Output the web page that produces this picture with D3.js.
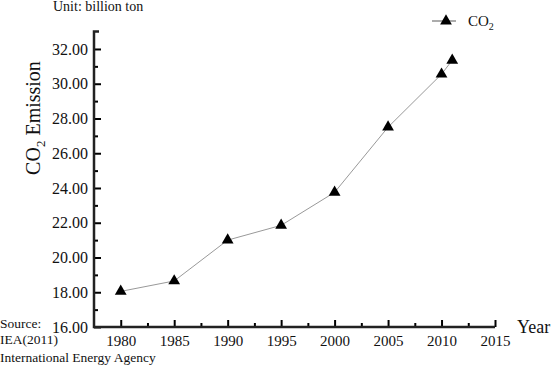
<!DOCTYPE html>
<html><head><meta charset="utf-8">
<script src="https://cdn.jsdelivr.net/npm/d3@7"></script>
<style>body{margin:0;background:#fff}svg{display:block;font-family:"Liberation Serif","Times New Roman",serif}</style>
</head><body><svg id="c" width="553" height="365"></svg>
<script>
const years = [1980, 1985, 1990, 1995, 2000, 2005, 2010, 2011];
const emissions = [18.05, 18.65, 21.0, 21.85, 23.75, 27.5, 30.55, 31.35];
const yTicks = [16, 18, 20, 22, 24, 26, 28, 30, 32];
const xTicks = [1980, 1985, 1990, 1995, 2000, 2005, 2010, 2015];

const svg = d3.select("#c");
const x = d3.scaleLinear().domain([1977.5, 2015]).range([94, 495]);
const y = d3.scaleLinear().domain([16, 33]).range([327, 31.6]);
const AX = "#000";

// y axis
const yAxis = d3.axisRight(y).tickValues(yTicks).tickSize(7).tickSizeOuter(0).tickFormat(d3.format(".2f"));
const ya = svg.append("g").attr("transform", "translate(94,0)").call(yAxis);
ya.select(".domain").remove();
ya.selectAll(".tick line").style("stroke", AX).style("stroke-width", "2px");
ya.selectAll(".tick text").attr("x", -6).attr("text-anchor", "end").attr("font-size", 16).attr("font-family", "Liberation Serif").attr("fill", "#111");
// minor y ticks
const ym = d3.axisRight(y).tickValues(d3.range(17, 33, 2)).tickSize(4).tickSizeOuter(0).tickFormat("");
const yma = svg.append("g").attr("transform", "translate(94,0)").call(ym);
yma.select(".domain").remove();
yma.selectAll(".tick line").style("stroke", AX).style("stroke-width", "2px");

// x axis
const xAxis = d3.axisTop(x).tickValues(xTicks).tickSize(7).tickSizeOuter(0).tickFormat(d3.format("d"));
const xa = svg.append("g").attr("transform", "translate(0,327)").call(xAxis);
xa.select(".domain").remove();
xa.selectAll(".tick line").style("stroke", AX).style("stroke-width", "2px");
xa.selectAll(".tick text").attr("y", 8).attr("dy", "0.71em").attr("font-size", 15).attr("font-family", "Liberation Serif").attr("fill", "#111");
const xm = d3.axisTop(x).tickValues(d3.range(1982.5, 2015, 5)).tickSize(4).tickSizeOuter(0).tickFormat("");
const xma = svg.append("g").attr("transform", "translate(0,327)").call(xm);
xma.select(".domain").remove();
xma.selectAll(".tick line").style("stroke", AX).style("stroke-width", "2px");

// axis lines
svg.append("path").style("fill", "none").style("stroke", "#222").style("stroke-width", "2.5px")
  .attr("d", `M${x(1977.5) + 5},${y(33)}H${x(1977.5)}V${y(16)}H${x(2015)}`);

// line
const data = years.map((d, i) => ({ year: d, v: emissions[i] }));
svg.append("path").datum(data).attr("fill", "none").attr("stroke", "#999").attr("stroke-width", 1)
  .attr("d", d3.line().x(d => x(d.year)).y(d => y(d.v)));
const tri = d3.symbol().type(d3.symbolTriangle).size(60);
svg.selectAll("path.m").data(data).enter().append("path").attr("class", "m")
  .attr("transform", d => `translate(${x(d.year)},${y(d.v)})`).attr("d", tri).attr("fill", "#000");

// legend
svg.append("line").attr("x1", 432).attr("x2", 456).attr("y1", 21).attr("y2", 21).attr("stroke", "#888").attr("stroke-width", 1.4);
svg.append("path").attr("transform", "translate(446,21)").attr("d", tri).attr("fill", "#000");
const lt = svg.append("text").attr("x", 468).attr("y", 26).attr("font-size", 15).attr("fill", "#111");
lt.append("tspan").text("CO");
lt.append("tspan").attr("font-size", 10).attr("dy", 4).text("2");

// titles
const yt = svg.append("text").attr("transform", "translate(40,118) rotate(-90)").attr("text-anchor", "middle").attr("font-size", 20).attr("fill", "#111");
yt.append("tspan").text("CO");
yt.append("tspan").attr("font-size", 13).attr("dy", 5).text("2");
yt.append("tspan").attr("dy", -5).text(" Emission");
svg.append("text").attr("x", 517).attr("y", 333).attr("font-size", 18).attr("fill", "#111").text("Year");
svg.append("text").attr("x", 53).attr("y", 11).attr("font-size", 14).attr("fill", "#111").text("Unit: billion ton");
svg.append("text").attr("x", 0).attr("y", 328).attr("font-size", 13.5).attr("fill", "#111").text("Source:");
svg.append("text").attr("x", 0).attr("y", 344).attr("font-size", 13.5).attr("fill", "#111").text("IEA(2011)");
svg.append("text").attr("x", 0).attr("y", 362).attr("font-size", 13.5).attr("fill", "#111").text("International Energy Agency");
</script></body></html>
